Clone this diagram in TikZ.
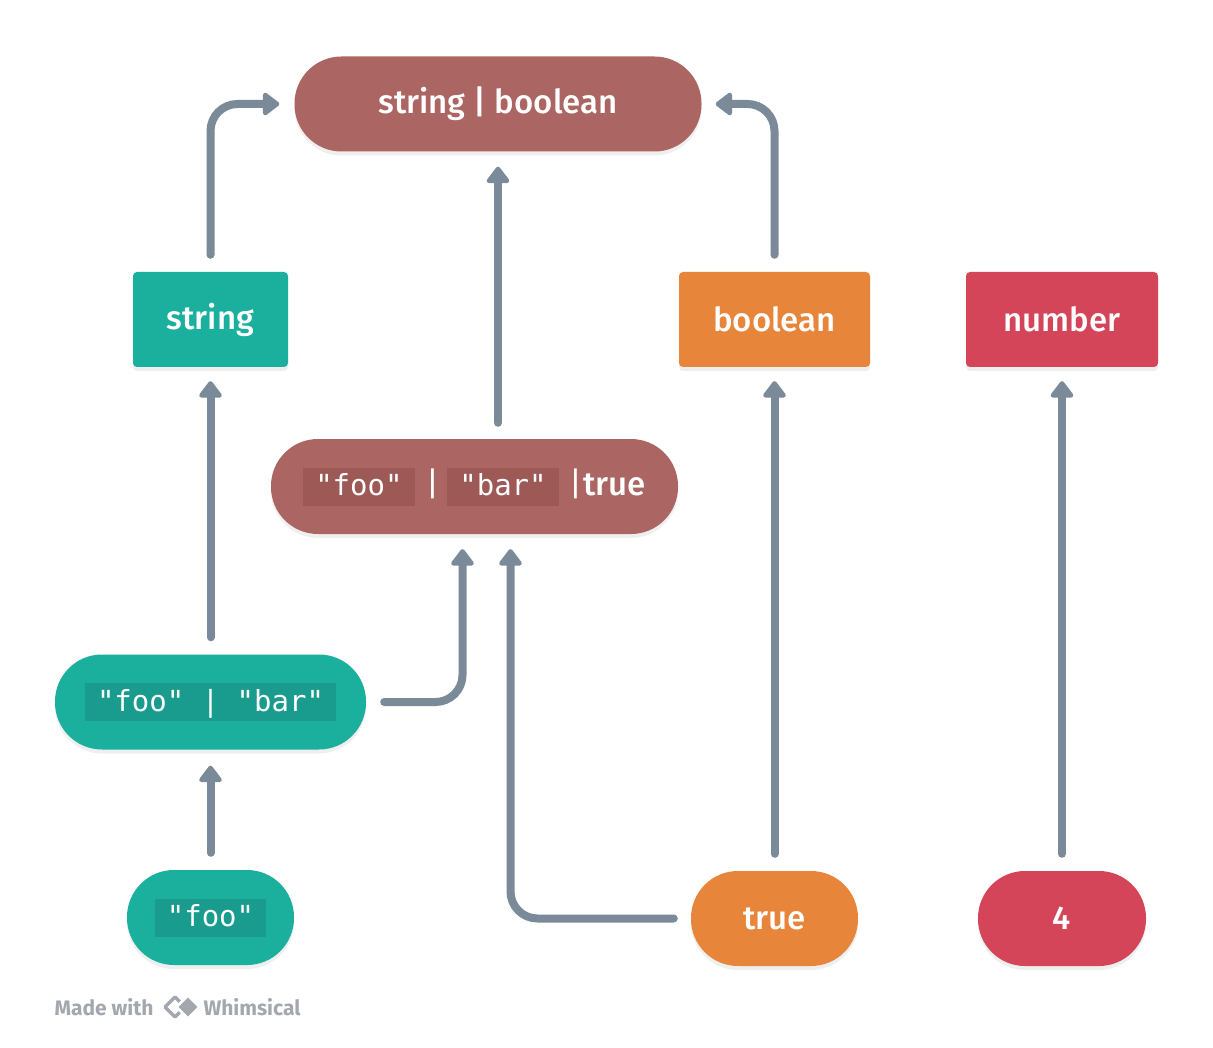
\documentclass[tikz,border=0pt]{standalone}
\usepackage{fontspec}
\setmainfont{Fira Sans}
\newfontfamily\labelfont{Fira Sans Medium}
\newfontfamily\monofont{DejaVu Sans Mono}
\usetikzlibrary{arrows.meta, shadows}

\definecolor{unionred}{HTML}{AB6562}
\definecolor{codered}{HTML}{9C5956}
\definecolor{stringgreen}{HTML}{1BAF9E}
\definecolor{codegreen}{HTML}{199B8D}
\definecolor{boolorange}{HTML}{E7853A}
\definecolor{numberred}{HTML}{D4455A}
\definecolor{arrowgray}{HTML}{7A8A99}
\definecolor{markgray}{HTML}{A3A8AF}

% Code im Label
\newcommand\code[2]{{\setlength\fboxsep{0pt}\colorbox{#1}{\hspace{12pt}\rule[-10pt]{0pt}{38pt}\monofont\fontsize{29pt}{29pt}\selectfont #2\hspace{12pt}}}}
\newcommand\unionbar{{\rmfamily|}}

\begin{document}
\begin{tikzpicture}[x = 1pt, y = 1pt, yscale = -1,
	typenode/.style = {rectangle, inner sep = 0pt, minimum height = 95pt, text = white,
		font = \labelfont\fontsize{33pt}{33pt}\selectfont,
		drop shadow = {opacity = 0.12, shadow xshift = 0pt, shadow yshift = -4pt}},
	pill/.style = {typenode, rounded corners = 47pt},
	typebox/.style = {typenode, rounded corners = 4pt}]
	\fill [white] (0, 0) rectangle (1213, 1048);
	\useasboundingbox (0, 0) rectangle (1213, 1048);

	% Typen
	\node [pill, fill = unionred, minimum width = 407pt] (top) at (498, 104) {string | boolean};
	\node [typebox, fill = stringgreen, minimum width = 155pt] (string) at (210.5, 319.5) {string};
	\node [typebox, fill = boolorange, minimum width = 191pt] (boolean) at (774.5, 319.5) {boolean};
	\node [typebox, fill = numberred, minimum width = 192pt] (number) at (1062, 319.5) {number};
	\node [pill, fill = unionred, minimum width = 407pt] (mid) at (474.5, 486.5) {\code{codered}{"foo"}\hspace{3pt} \unionbar{} \code{codered}{"bar"}\hspace{2pt} \unionbar\hspace{1pt}true};
	\node [pill, fill = stringgreen, minimum width = 311pt] (foobar) at (210.5, 702) {\code{codegreen}{"foo" | "bar"}};

	% Literale
	\node [pill, fill = stringgreen, minimum width = 167pt] (foo) at (210.5, 917.5) {\code{codegreen}{"foo"}};
	\node [pill, fill = boolorange, minimum width = 167pt] (true) at (774.5, 918.5) {true};
	\node [pill, fill = numberred, minimum width = 168pt] (four) at (1062, 918.5) {4};

	% Pfeile
	\begin{scope}[draw = arrowgray, line width = 8pt, line cap = round, rounded corners = 27pt,
		-{Triangle[length = 18pt, width = 26pt, round]}]
		\draw [shorten <= 17pt, shorten >= 15pt] (string.north) |- (top.west);
		\draw [shorten <= 17pt, shorten >= 14pt] (boolean.north) |- (top.east);
		\draw [shorten <= 16pt, shorten >= 15pt] (top.south |- mid.north) -- (top.south);
		\draw [shorten <= 17pt, shorten >= 14pt] (foobar.north) -- (string.south);
		\draw [shorten <= 18pt, shorten >= 15pt] (foobar.east) -| ([xshift = -12pt]mid.south);
		\draw [shorten <= 17pt, shorten >= 15pt] (true.west) -| ([xshift = 36pt]mid.south);
		\draw [shorten <= 17pt, shorten >= 14pt] (true.north) -- (boolean.south);
		\draw [shorten <= 17pt, shorten >= 14pt] (four.north) -- (number.south);
		\draw [shorten <= 17pt, shorten >= 16pt] (foo.north) -- (foobar.south);
	\end{scope}

	% Hinweis
	\begin{scope}[anchor = west, text = markgray, font = \bfseries\fontsize{21pt}{21pt}\selectfont]
		\node (made) at (51, 1007) {Made with};
		\node (whim) at (200, 1007) {Whimsical};
	\end{scope}
	\draw [markgray, line width = 3.5pt, line join = round] (175, 997) -- (165, 1007) -- (175, 1017) -- (185, 1007) -- cycle;
	\draw [fill = markgray, draw = white, line width = 2.5pt, line join = round] (188, 995.5) -- (176.5, 1007) -- (188, 1018.5) -- (199.5, 1007) -- cycle;
\end{tikzpicture}
\end{document}
